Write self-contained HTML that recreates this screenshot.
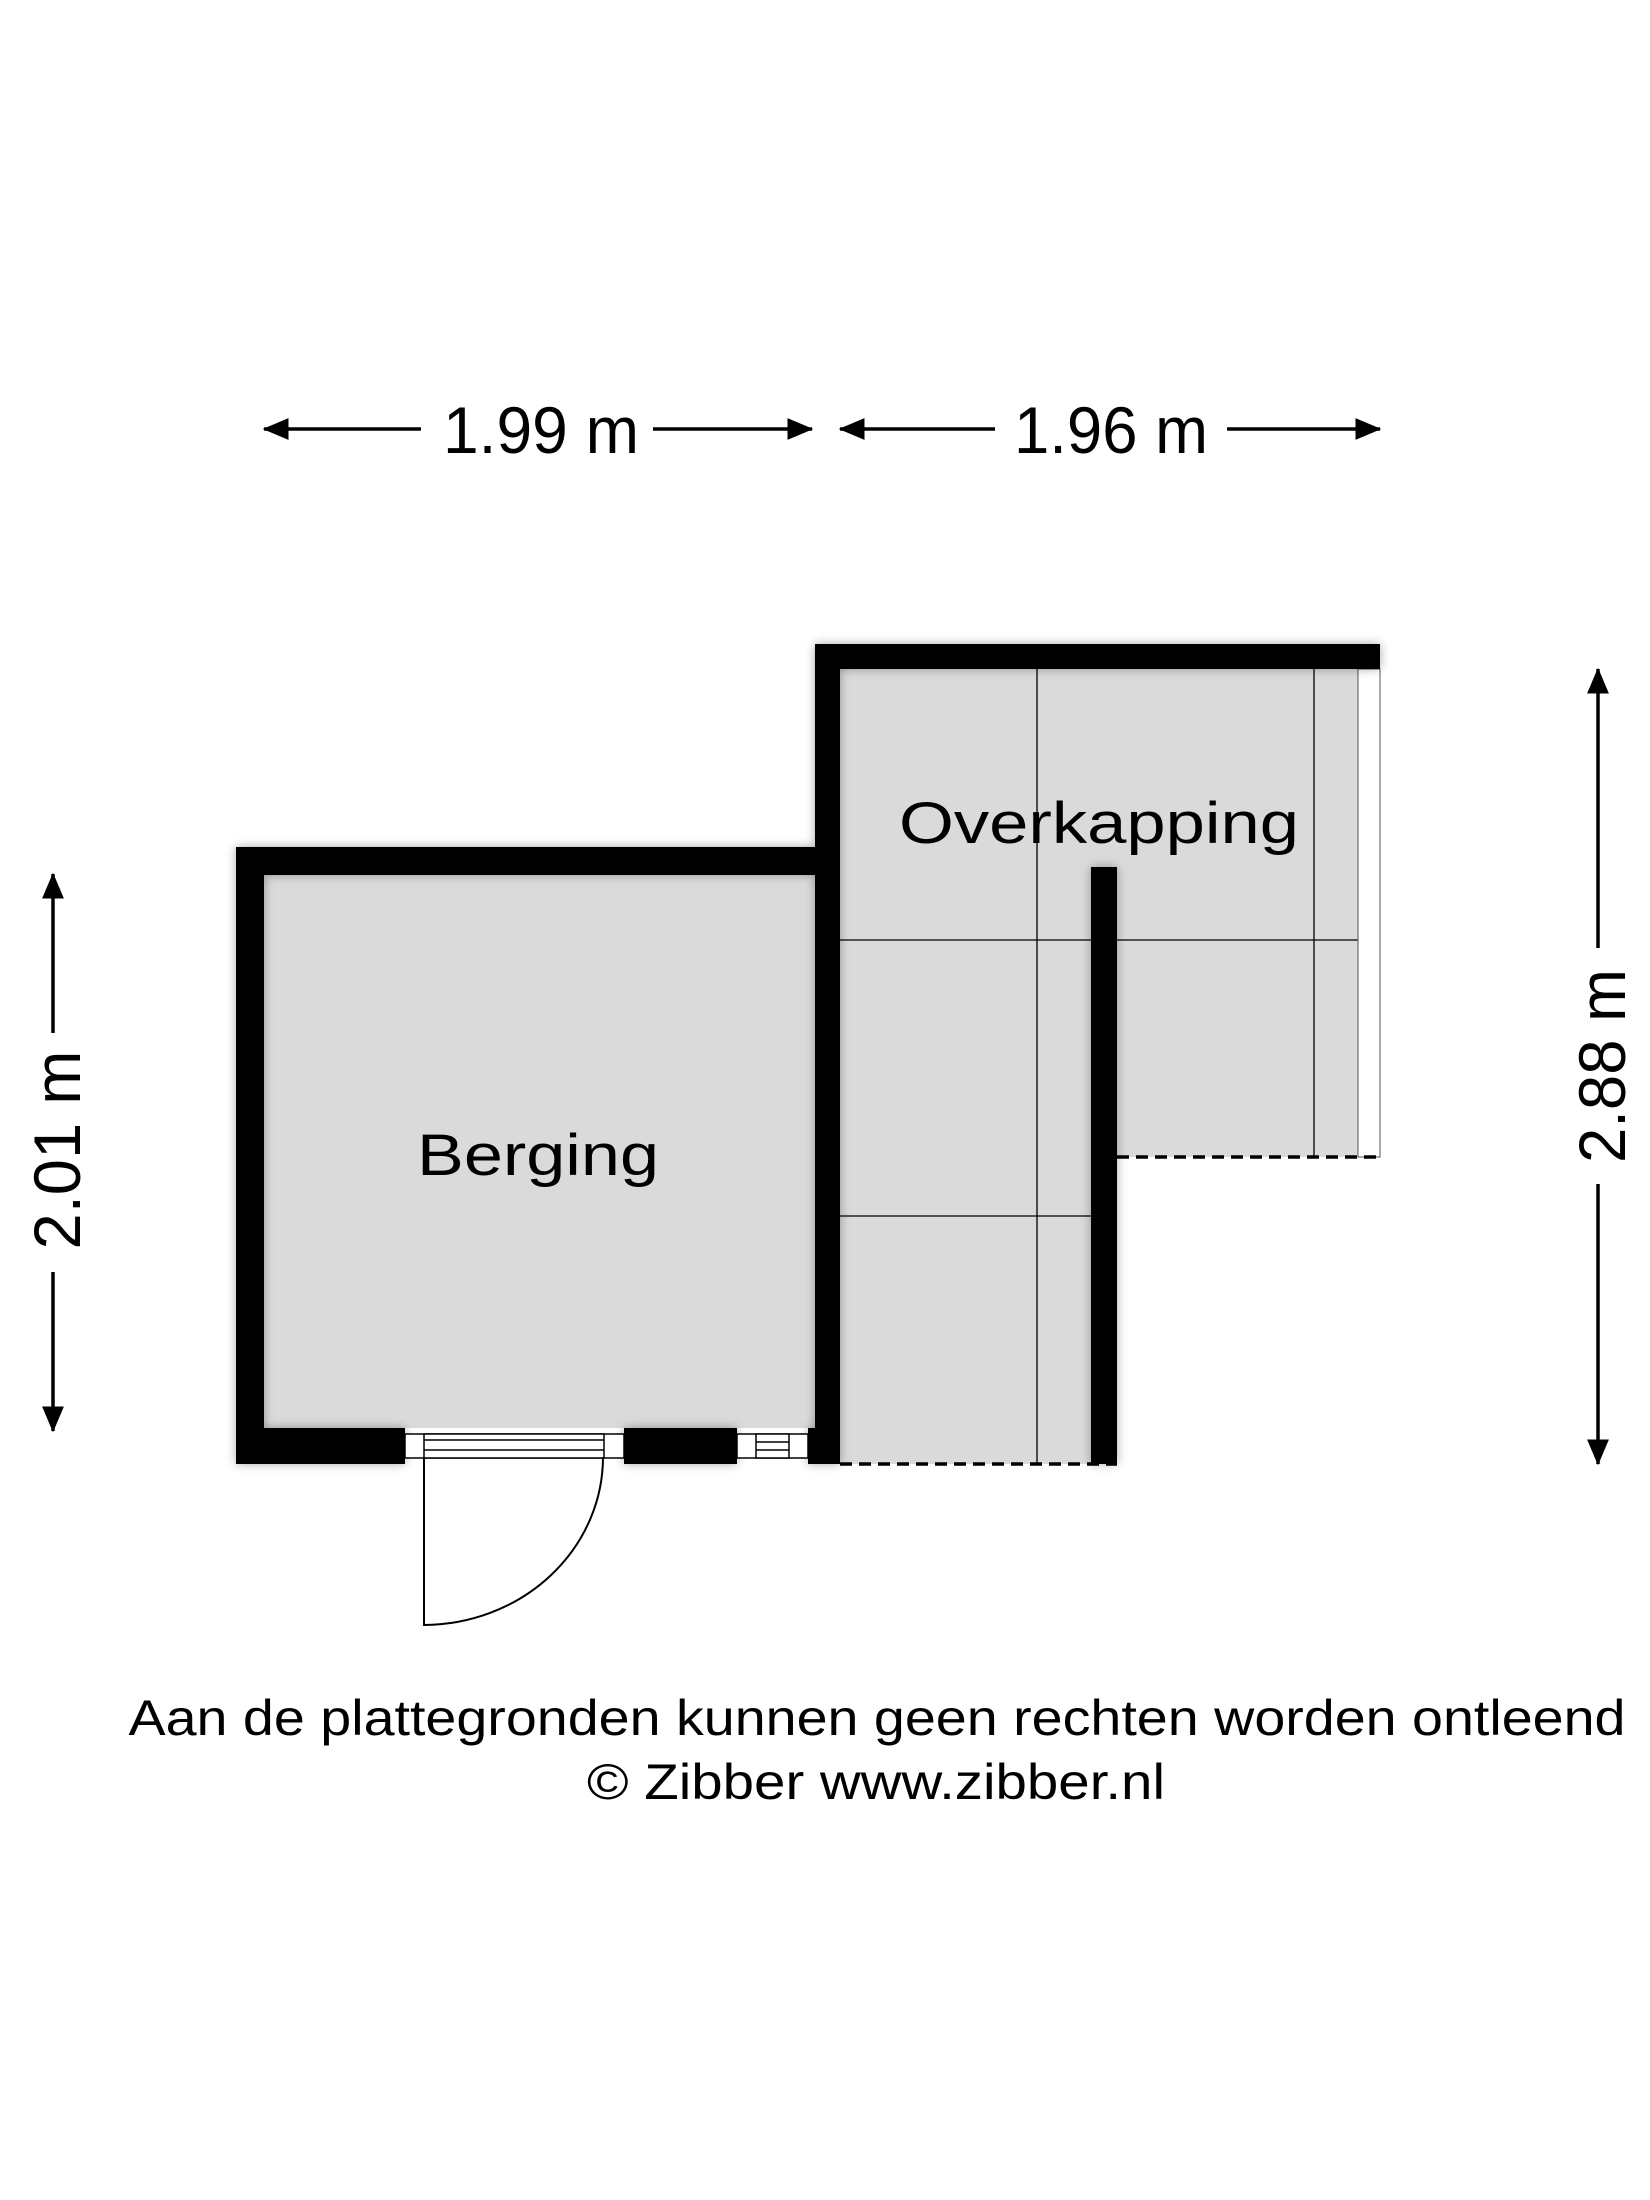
<!DOCTYPE html>
<html><head><meta charset="utf-8"><style>html,body{margin:0;padding:0;background:#fff}svg{display:block}</style></head>
<body>
<svg width="1650" height="2200" viewBox="0 0 1650 2200" xmlns="http://www.w3.org/2000/svg" font-family="Liberation Sans, Arial, sans-serif">
<defs>
<filter id="sh" x="-10%" y="-10%" width="120%" height="120%"><feGaussianBlur in="SourceAlpha" stdDeviation="5"/><feComponentTransfer><feFuncA type="linear" slope="0.35"/></feComponentTransfer><feMerge><feMergeNode/><feMergeNode in="SourceGraphic"/></feMerge></filter>
<marker id="ah" viewBox="0 0 10 10" refX="9.5" refY="5" markerWidth="26" markerHeight="22" markerUnits="userSpaceOnUse" orient="auto" preserveAspectRatio="none"><path d="M0,0 L10,5 L0,10 z"/></marker>
</defs>
<rect x="264" y="875" width="551" height="553" fill="#dadada"/>
<rect x="840" y="669" width="518" height="488" fill="#dadada"/>
<rect x="840" y="1157" width="251" height="307" fill="#dadada"/>
<g stroke="#000" stroke-width="1.3">
<line x1="1037" y1="669" x2="1037" y2="1464"/>
<line x1="1314" y1="669" x2="1314" y2="1157"/>
<line x1="840" y1="940" x2="1358" y2="940"/>
<line x1="840" y1="1216" x2="1091" y2="1216"/>
</g>
<rect x="1358" y="669" width="22" height="488" fill="#fff" stroke="#555" stroke-width="1"/>
<g fill="#000" filter="url(#sh)">
<rect x="236" y="847" width="604" height="28"/>
<rect x="236" y="847" width="28" height="617"/>
<rect x="236" y="1428" width="169" height="36"/>
<rect x="624" y="1428" width="113" height="36"/>
<rect x="808" y="1428" width="32" height="36"/>
<rect x="815" y="644" width="565" height="25"/>
<rect x="815" y="644" width="25" height="820"/>
<rect x="1091" y="867" width="26" height="597"/>
</g>
<g fill="#fff" stroke="#000" stroke-width="1.5">
<rect x="405" y="1434" width="219" height="24"/>
<rect x="424" y="1434" width="180" height="24"/>
<line x1="424" y1="1440" x2="604" y2="1440"/>
<line x1="424" y1="1450" x2="604" y2="1450"/>
<rect x="737" y="1434" width="71" height="24"/>
<rect x="756" y="1434" width="33" height="24"/>
<line x1="756" y1="1442" x2="789" y2="1442"/>
<line x1="756" y1="1450" x2="789" y2="1450"/>
</g>
<path d="M424,1457 L424,1625 A180,168 0 0 0 603,1457" fill="none" stroke="#000" stroke-width="2"/>
<g stroke="#000" stroke-width="3.5" stroke-dasharray="12,7">
<line x1="840" y1="1464" x2="1117" y2="1464"/>
<line x1="1117" y1="1157" x2="1380" y2="1157"/>
</g>
<text x="538" y="1175" font-size="58" textLength="242" lengthAdjust="spacingAndGlyphs" text-anchor="middle">Berging</text>
<text x="1099" y="843" font-size="58" textLength="400" lengthAdjust="spacingAndGlyphs" text-anchor="middle">Overkapping</text>
<g stroke="#000" stroke-width="3.5" marker-end="url(#ah)">
<line x1="421" y1="429" x2="264" y2="429"/>
<line x1="653" y1="429" x2="812" y2="429"/>
<line x1="995" y1="429" x2="840" y2="429"/>
<line x1="1227" y1="429" x2="1380" y2="429"/>
<line x1="53" y1="1033" x2="53" y2="874"/>
<line x1="53" y1="1272" x2="53" y2="1431"/>
<line x1="1598" y1="948" x2="1598" y2="669"/>
<line x1="1598" y1="1184" x2="1598" y2="1464"/>
</g>
<g font-size="66">
<text x="541" y="453" text-anchor="middle" textLength="196" lengthAdjust="spacingAndGlyphs">1.99 m</text>
<text x="1111" y="453" text-anchor="middle" textLength="194" lengthAdjust="spacingAndGlyphs">1.96 m</text>
<text transform="translate(80,1150) rotate(-90)" text-anchor="middle" textLength="199" lengthAdjust="spacingAndGlyphs">2.01 m</text>
<text transform="translate(1625,1066) rotate(-90)" text-anchor="middle" textLength="194" lengthAdjust="spacingAndGlyphs">2.88 m</text>
</g>
<text x="877" y="1735" font-size="50" text-anchor="middle" textLength="1497" lengthAdjust="spacingAndGlyphs">Aan de plattegronden kunnen geen rechten worden ontleend</text>
<text x="876" y="1799" font-size="50" text-anchor="middle" textLength="578" lengthAdjust="spacingAndGlyphs">© Zibber www.zibber.nl</text>
</svg>
</body></html>
